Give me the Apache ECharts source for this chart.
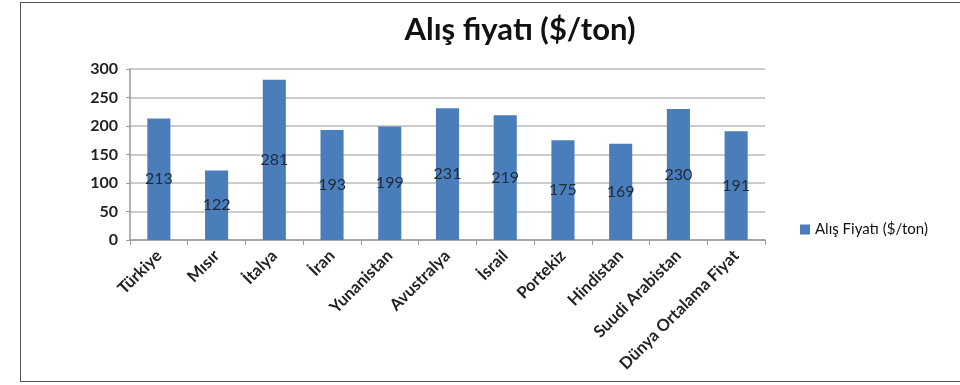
<!DOCTYPE html>
<html>
<head>
<meta charset="utf-8">
<script src="https://cdn.jsdelivr.net/npm/echarts@6/dist/echarts.min.js"></script>
<style>
  html, body { margin: 0; padding: 0; background: #fff; }
  #frame { position: absolute; left: 20px; top: 2px; width: 960px; height: 380px; border: 1.5px solid #555; border-right: none; box-sizing: border-box; }
  #chart { position: absolute; left: 0; top: 0; width: 960px; height: 385px; }
</style>
</head>
<body>
<div id="frame"></div>
<div id="chart"></div>
<script>
// Purchase price per ton by country
const categories = ['Türkiye', 'Mısır', 'İtalya', 'İran', 'Yunanistan', 'Avustralya', 'İsrail', 'Portekiz', 'Hindistan', 'Suudi Arabistan', 'Dünya Ortalama Fiyat'];
const prices = [213, 122, 281, 193, 199, 231, 219, 175, 169, 230, 191];
const yTicks = [0, 50, 100, 150, 200, 250, 300];
const seriesName = 'Alış Fiyatı ($/ton)';
const titleText = 'Alış fiyatı ($/ton)';

const font = 'Lato, "Open Sans", sans-serif';
const chart = echarts.init(document.getElementById('chart'), null, { renderer: 'canvas' });
chart.setOption({
  backgroundColor: 'transparent',
  animation: false,
  textStyle: { fontFamily: font },
  title: {
    text: titleText,
    left: 515, top: 9,
    textAlign: 'center',
    textStyle: { fontSize: 31, fontWeight: 'bold', color: '#111', fontFamily: font }
  },
  legend: {
    data: [seriesName],
    left: 795, top: 217,
    itemWidth: 10, itemHeight: 10, itemGap: 4,
    icon: 'rect',
    textStyle: { fontSize: 15, color: '#111', fontFamily: font }
  },
  grid: { left: 130, right: 195, top: 69, bottom: 145 },
  xAxis: {
    type: 'category',
    data: categories,
    axisLine: { lineStyle: { color: '#999', width: 1.5 } },
    axisTick: { show: true, alignWithLabel: false, length: 5, lineStyle: { color: '#999' } },
    axisLabel: { rotate: 45, fontSize: 16.5, fontWeight: 'bold', color: '#222', margin: 13, interval: 0, fontFamily: font }
  },
  yAxis: {
    type: 'value',
    min: yTicks[0], max: yTicks[yTicks.length - 1], interval: 50,
    axisLine: { show: true, lineStyle: { color: '#999', width: 1.5 } },
    axisTick: { show: true, length: 4, lineStyle: { color: '#999' } },
    axisLabel: { fontSize: 16, fontWeight: 'bold', color: '#222', margin: 12, fontFamily: font },
    splitLine: { lineStyle: { color: '#bbb', width: 1.5 } }
  },
  series: [{
    name: seriesName,
    type: 'bar',
    data: prices,
    barWidth: '40%',
    itemStyle: { color: '#4a7ebb' },
    label: {
      show: true, position: 'inside',
      fontSize: 16, color: '#1c2a3a', fontFamily: font
    }
  }]
});
</script>
</body>
</html>
